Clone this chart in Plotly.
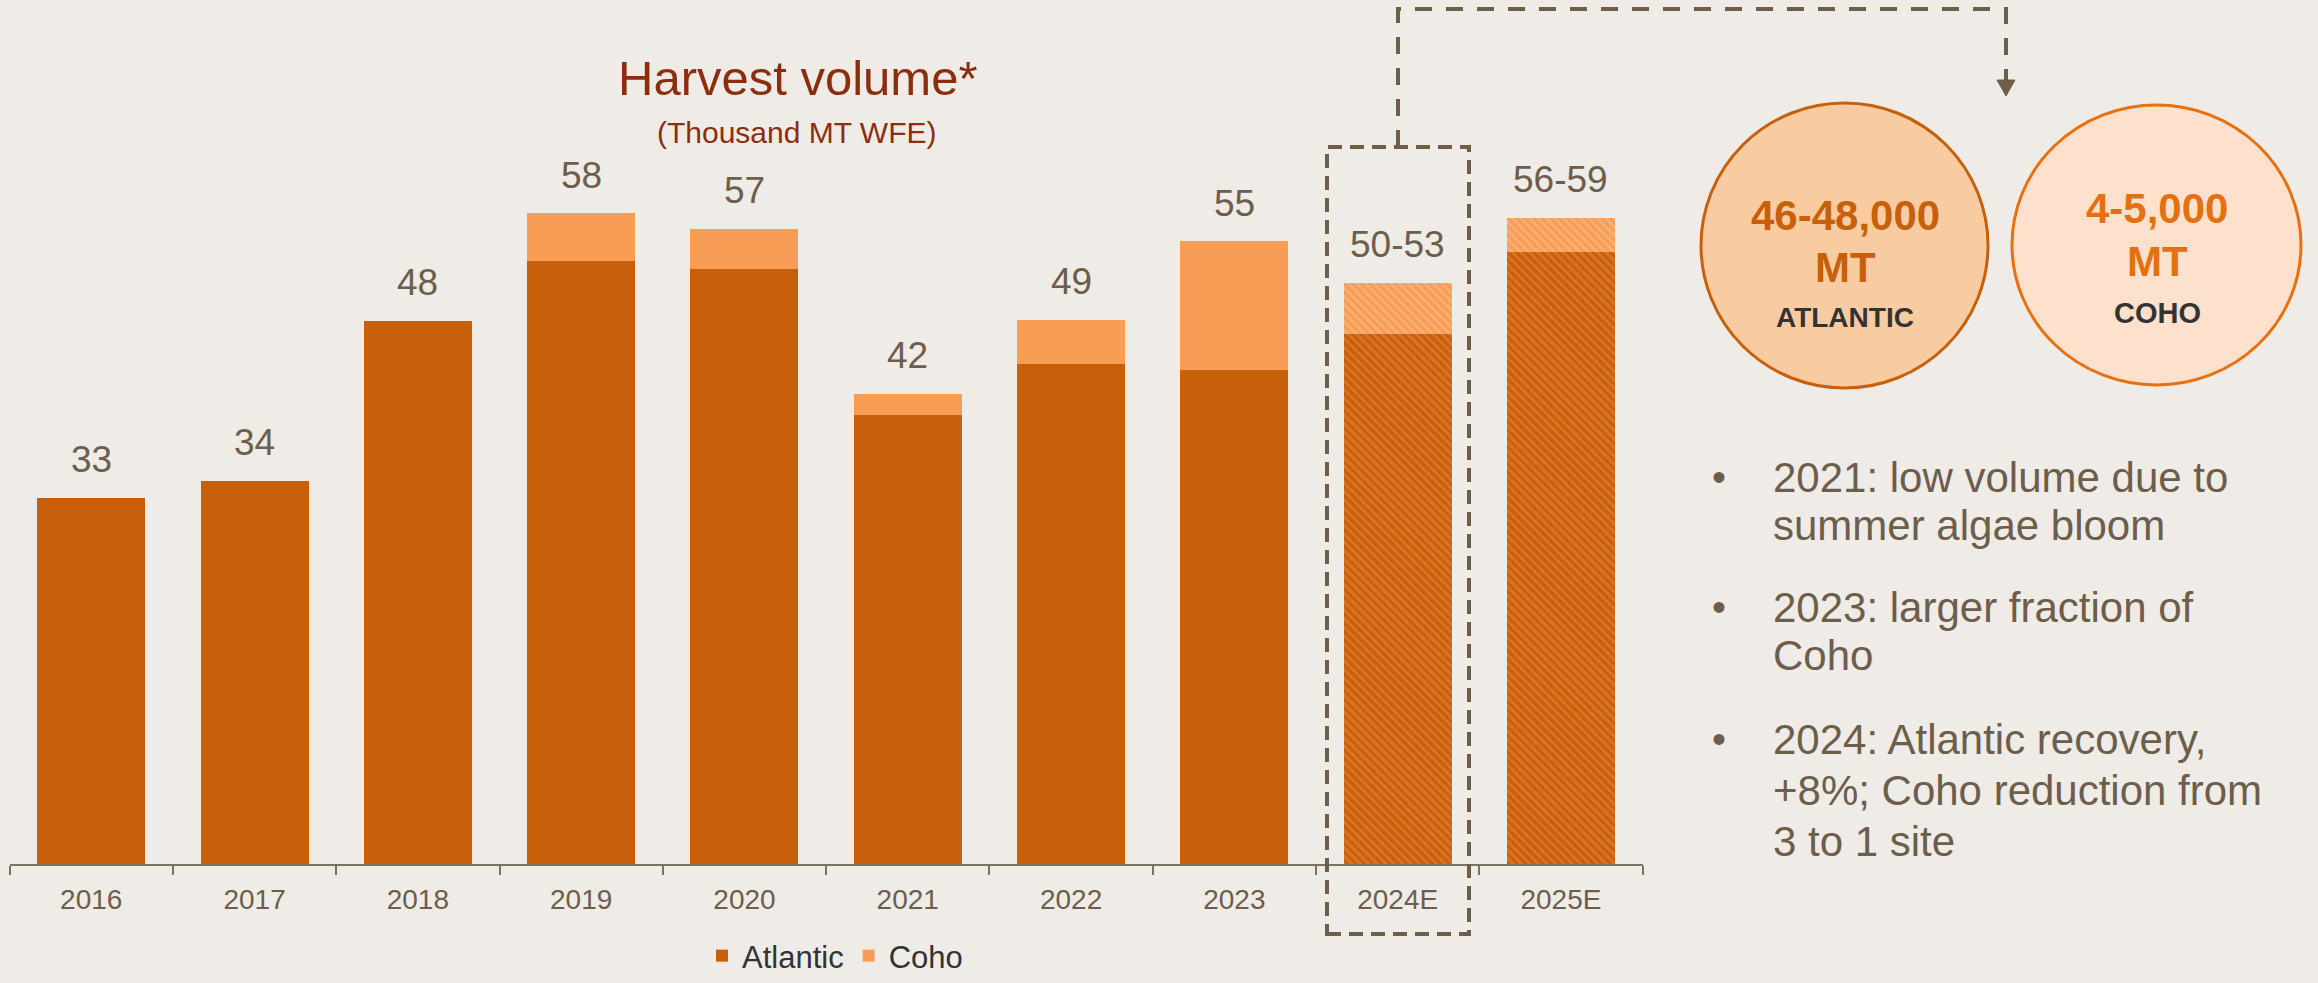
import plotly.graph_objects as go

W, H = 2318, 983

# ---------------- data ----------------
categories = ["2016", "2017", "2018", "2019", "2020", "2021", "2022", "2023", "2024E", "2025E"]
atlantic = [32.7, 34.2, 48.5, 53.8, 53.1, 40.1, 44.6, 44.1, 47.3, 54.6]
coho = [0.0, 0.0, 0.0, 4.3, 3.6, 1.9, 4.0, 11.5, 4.6, 3.1]
total_labels = ["33", "34", "48", "58", "57", "42", "49", "55", "50-53", "56-59"]
n_actual = 8  # first 8 years are actuals, the rest are estimates (hatched)

bullets = [
    ["2021: low volume due to", "summer algae bloom"],
    ["2023: larger fraction of", "Coho"],
    ["2024: Atlantic recovery,", "+8%; Coho reduction from", "3 to 1 site"],
]

# ---------------- style ----------------
BG = "#efebe7"
ATL = "#c85f0a"
ATL_LIGHT = "#ee8a44"
COHO = "#f89d55"
COHO_LIGHT = "#fcc596"
TXT = "#6d5d4b"
DASH = "#6e5e48"
FONT = "Liberation Sans, Arial, sans-serif"


def px(x):
    return x / W


def py(y):
    return 1 - y / H


fig = go.Figure()

fig.add_trace(go.Bar(
    x=categories[:n_actual], y=atlantic[:n_actual], name="Atlantic",
    marker=dict(color=ATL, line=dict(width=0)),
))
fig.add_trace(go.Bar(
    x=categories[n_actual:], y=atlantic[n_actual:], name="Atlantic est.", showlegend=False,
    marker=dict(color=ATL, line=dict(width=0),
                pattern=dict(shape="\\", bgcolor=ATL, fgcolor=ATL_LIGHT, size=6, solidity=0.45,
                             fillmode="overlay")),
))
fig.add_trace(go.Bar(
    x=categories[:n_actual], y=coho[:n_actual], name="Coho",
    marker=dict(color=COHO, line=dict(width=0)),
))
fig.add_trace(go.Bar(
    x=categories[n_actual:], y=coho[n_actual:], name="Coho est.", showlegend=False,
    marker=dict(color=COHO, line=dict(width=0),
                pattern=dict(shape="\\", bgcolor=COHO, fgcolor=COHO_LIGHT, size=6, solidity=0.45,
                             fillmode="overlay")),
))

annotations = []
# value labels above the stacks (x given as category index)
for i, (a, co, lab) in enumerate(zip(atlantic, coho, total_labels)):
    annotations.append(dict(
        x=i, y=a + co, xref="x", yref="y", text=lab, showarrow=False,
        yanchor="middle", yshift=38, font=dict(family=FONT, size=37, color=TXT),
    ))

# title
annotations.append(dict(x=px(797), y=py(78), xref="paper", yref="paper", text="Harvest volume*",
                        showarrow=False, xanchor="center", yanchor="middle",
                        font=dict(family=FONT, size=49, color="#8c2d0e")))
annotations.append(dict(x=px(797), y=py(133), xref="paper", yref="paper", text="(Thousand MT WFE)",
                        showarrow=False, xanchor="center", yanchor="middle",
                        font=dict(family=FONT, size=30, color="#8c2d0e")))

# circle texts
circ = [
    dict(x=px(1845), y=py(215), text="<b>46-48,000</b>", font=dict(family=FONT, size=42, color=ATL)),
    dict(x=px(1845), y=py(267), text="<b>MT</b>", font=dict(family=FONT, size=42, color=ATL)),
    dict(x=px(1845), y=py(318), text="<b>ATLANTIC</b>", font=dict(family=FONT, size=28, color="#333333")),
    dict(x=px(2157), y=py(208), text="<b>4-5,000</b>", font=dict(family=FONT, size=42, color="#e5700f")),
    dict(x=px(2157), y=py(261), text="<b>MT</b>", font=dict(family=FONT, size=42, color="#e5700f")),
    dict(x=px(2157), y=py(313), text="<b>COHO</b>", font=dict(family=FONT, size=29, color="#333333")),
]
for a in circ:
    a.update(xref="paper", yref="paper", showarrow=False, xanchor="center", yanchor="middle")
annotations += circ

# bullet list: one annotation per line, positioned at cap centre
line_centres = [[477, 525], [607, 655], [739, 790, 841]]
for lines, centres in zip(bullets, line_centres):
    annotations.append(dict(x=px(1719), y=py(centres[0]), xref="paper", yref="paper", text="•",
                            showarrow=False, xanchor="center", yanchor="middle",
                            font=dict(family=FONT, size=40, color=TXT)))
    for ln, yc in zip(lines, centres):
        annotations.append(dict(x=px(1771), y=py(yc), xref="paper", yref="paper", text=ln,
                                showarrow=False, xanchor="left", yanchor="middle", align="left",
                                font=dict(family=FONT, size=42, color=TXT)))

shapes = [
    # circles
    dict(type="circle", xref="paper", yref="paper", x0=px(1701), x1=px(1988), y0=py(388), y1=py(103),
         fillcolor="#f9cba1", line=dict(color=ATL, width=3), layer="below"),
    dict(type="circle", xref="paper", yref="paper", x0=px(2012), x1=px(2301), y0=py(385), y1=py(105),
         fillcolor="#fde1cc", line=dict(color="#e8700f", width=3), layer="below"),
    # dashed box around 2024E
    dict(type="rect", xref="paper", yref="paper", x0=px(1327), x1=px(1469), y0=py(934), y1=py(147),
         line=dict(color=DASH, width=4, dash="14px,8px")),
    # connector
    dict(type="path", xref="paper", yref="paper",
         path=f"M {px(1398)},{py(147)} L {px(1398)},{py(9)} L {px(2006)},{py(9)} L {px(2006)},{py(80)}",
         line=dict(color=DASH, width=4, dash="17px,14px")),
    dict(type="path", xref="paper", yref="paper",
         path=f"M {px(1997)},{py(80)} L {px(2015)},{py(80)} L {px(2006)},{py(96)} Z",
         fillcolor=DASH, line=dict(color=DASH, width=1)),
]

fig.update_layout(
    width=W, height=H, autosize=False,
    paper_bgcolor=BG, plot_bgcolor=BG,
    margin=dict(l=0, r=0, t=0, b=0, autoexpand=False),
    barmode="stack", bargap=0.339,
    showlegend=True,
    legend=dict(orientation="h", x=px(835), xanchor="center", y=py(983), yanchor="bottom",
                font=dict(family=FONT, size=31, color="#333333"), bgcolor="rgba(0,0,0,0)",
                itemwidth=30, traceorder="normal", borderwidth=0),
    xaxis=dict(domain=[px(9.6), px(1642.6)], type="category", categoryorder="array",
               categoryarray=categories, range=[-0.5, len(categories) - 0.5], autorange=False,
               showline=True, linecolor="#7d7163", linewidth=2,
               ticks="outside", tickson="boundaries", ticklen=9, tickcolor="#7d7163", tickwidth=1.5,
               tickangle=0, ticklabelstandoff=9, automargin=False,
               tickfont=dict(family=FONT, size=28, color=TXT), showgrid=False, zeroline=False,
               fixedrange=True),
    yaxis=dict(domain=[py(864), py(192)], range=[0, 60], autorange=False, visible=False,
               fixedrange=True),
    annotations=annotations,
    shapes=shapes,
)

fig.write_html("out.html")
